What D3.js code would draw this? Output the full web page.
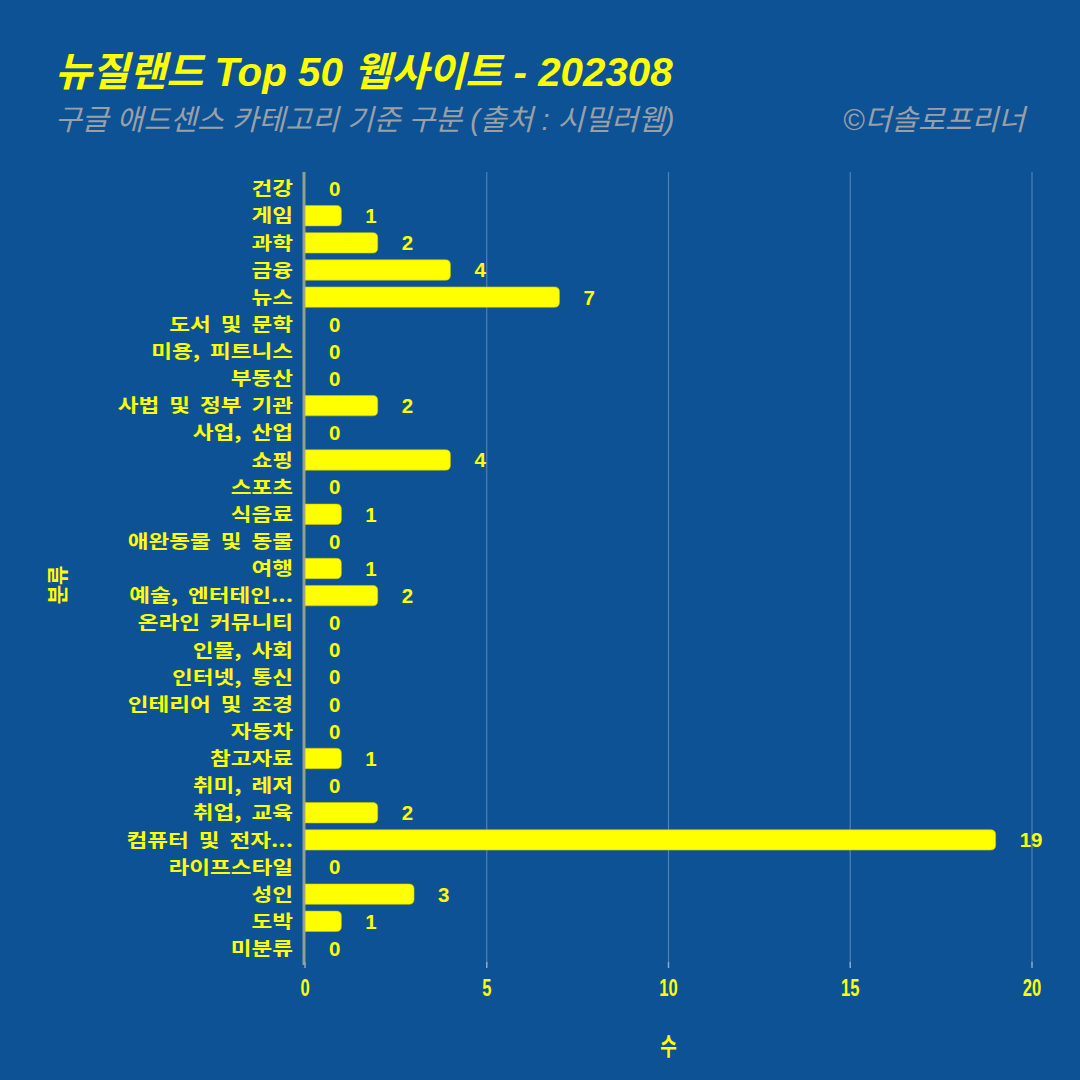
<!DOCTYPE html>
<html><head><meta charset="utf-8">
<script src="https://cdn.jsdelivr.net/npm/d3@7"></script>
<style>
html,body{margin:0;padding:0;background:#0d5294;}
svg{display:block;}
text{font-family:"Liberation Sans","Noto Sans CJK KR",sans-serif;}
</style></head>
<body>
<svg id="c" width="1080" height="1080"></svg>
<script>
const categories = ["건강","게임","과학","금융","뉴스","도서 및 문학","미용, 피트니스","부동산","사법 및 정부 기관","사업, 산업","쇼핑","스포츠","식음료","애완동물 및 동물","여행","예술, 엔터테인...","온라인 커뮤니티","인물, 사회","인터넷, 통신","인테리어 및 조경","자동차","참고자료","취미, 레저","취업, 교육","컴퓨터 및 전자...","라이프스타일","성인","도박","미분류"];
const values = [0,1,2,4,7,0,0,0,2,0,4,0,1,0,1,2,0,0,0,0,0,1,0,2,19,0,3,1,0];
const xTicks = [0,5,10,15,20];
const titleText = "뉴질랜드 Top 50 웹사이트 - 202308";
const subtitleText = "구글 애드센스 카테고리 기준 구분 (출처 : 시밀러웹)";
const creditText = "©더솔로프리너";
const xTitle = "수";
const yTitle = "분류";

const svg = d3.select("#c");
const W = 1080, H = 1080;
svg.append("rect").attr("width",W).attr("height",H).attr("fill","#0d5294");

const m = {left:305, right:1032, top:175, bottom:962};
const x = d3.scaleLinear().domain([0,20]).range([m.left, m.right]);
const y = d3.scaleBand().domain(categories).range([m.top, m.bottom]).paddingInner(0.25).paddingOuter(0.125);

// gridlines
svg.append("g").selectAll("line").data(xTicks.slice(1)).join("line")
  .attr("x1",d=>x(d)).attr("x2",d=>x(d)).attr("y1",172).attr("y2",965)
  .attr("stroke","#ffffff").attr("stroke-opacity",0.28).attr("stroke-width",1.2);

// bars with rounded right end
const r = 5;
svg.append("g").selectAll("path").data(categories.map((c,i)=>({c,v:values[i]})).filter(d=>d.v>0)).join("path")
  .attr("d", d=>{
    const x0 = x(0), x1 = x(d.v), y0 = y(d.c), h = y.bandwidth();
    const rr = Math.min(r, (x1-x0)/2);
    return `M${x0},${y0} H${x1-rr} Q${x1},${y0} ${x1},${y0+rr} V${y0+h-rr} Q${x1},${y0+h} ${x1-rr},${y0+h} H${x0} Z`;
  })
  .attr("fill","#ffff00").attr("stroke","#c8c800").attr("stroke-width",0.6);

// y axis line
svg.append("line").attr("x1",x(0)-1).attr("x2",x(0)-1).attr("y1",172).attr("y2",965)
  .attr("stroke","#b4b48c").attr("stroke-opacity",0.8).attr("stroke-width",3);

// x ticks
svg.append("g").selectAll("line").data(xTicks).join("line")
  .attr("x1",d=>x(d)).attr("x2",d=>x(d)).attr("y1",962).attr("y2",968)
  .attr("stroke","#8aa6c8").attr("stroke-width",1.5);

// value labels
svg.append("g").selectAll("text").data(categories.map((c,i)=>({c,v:values[i]}))).join("text")
  .attr("x",d=>x(d.v)+24).attr("y",d=>y(d.c)+y.bandwidth()/2)
  .attr("dy","0.36em").attr("text-anchor","start")
  .attr("fill","#ffff00").attr("font-weight","bold").attr("font-size",20.5)
  .text(d=>d.v);

// category labels (wide, compact line box)
svg.append("g").selectAll("text").data(categories).join("text")
  .attr("transform",d=>`translate(293,${y(d)+y.bandwidth()/2}) scale(1.22,1)`)
  .attr("dy","0.36em").attr("text-anchor","end")
  .attr("fill","#ffff00").attr("font-weight","bold").attr("font-size",18.5)
  .attr("word-spacing",4)
  .style("font-family","'Noto Sans CJK KR',sans-serif")
  .text(d=>d);

// x tick labels (narrow)
svg.append("g").selectAll("text").data(xTicks).join("text")
  .attr("transform",d=>`translate(${x(d)},988) scale(0.72,1)`)
  .attr("dy","0.36em").attr("text-anchor","middle")
  .attr("fill","#ffff00").attr("font-weight","bold").attr("font-size",23)
  .text(d=>d);

// axis titles
svg.append("text").attr("transform",`translate(${x(10)},1046) scale(0.75,1)`).attr("dy","0.36em").attr("text-anchor","middle")
  .attr("fill","#ffff00").attr("font-weight","bold").attr("font-size",24)
  .style("font-family","'Noto Sans CJK KR',sans-serif").text(xTitle);
svg.append("text").attr("transform","translate(57,585) rotate(-90)").attr("dy","0.36em").attr("text-anchor","middle")
  .attr("fill","#ffff00").attr("font-weight","bold").attr("font-size",21)
  .style("font-family","'Noto Sans CJK KR',sans-serif").text(yTitle);

// titles
svg.append("text").attr("x",55).attr("y",86)
  .attr("fill","#ffff00").attr("font-weight","bold").attr("font-style","italic").attr("font-size",40.3)
  .text(titleText);
svg.append("text").attr("x",55).attr("y",130)
  .attr("fill","#9aa0a8").attr("font-style","italic").attr("font-size",29.1)
  .text(subtitleText);
svg.append("text").attr("x",1025).attr("y",130).attr("text-anchor","end")
  .attr("fill","#9aa0a8").attr("font-style","italic").attr("font-size",29.1)
  .text(creditText);
</script>
</body></html>
